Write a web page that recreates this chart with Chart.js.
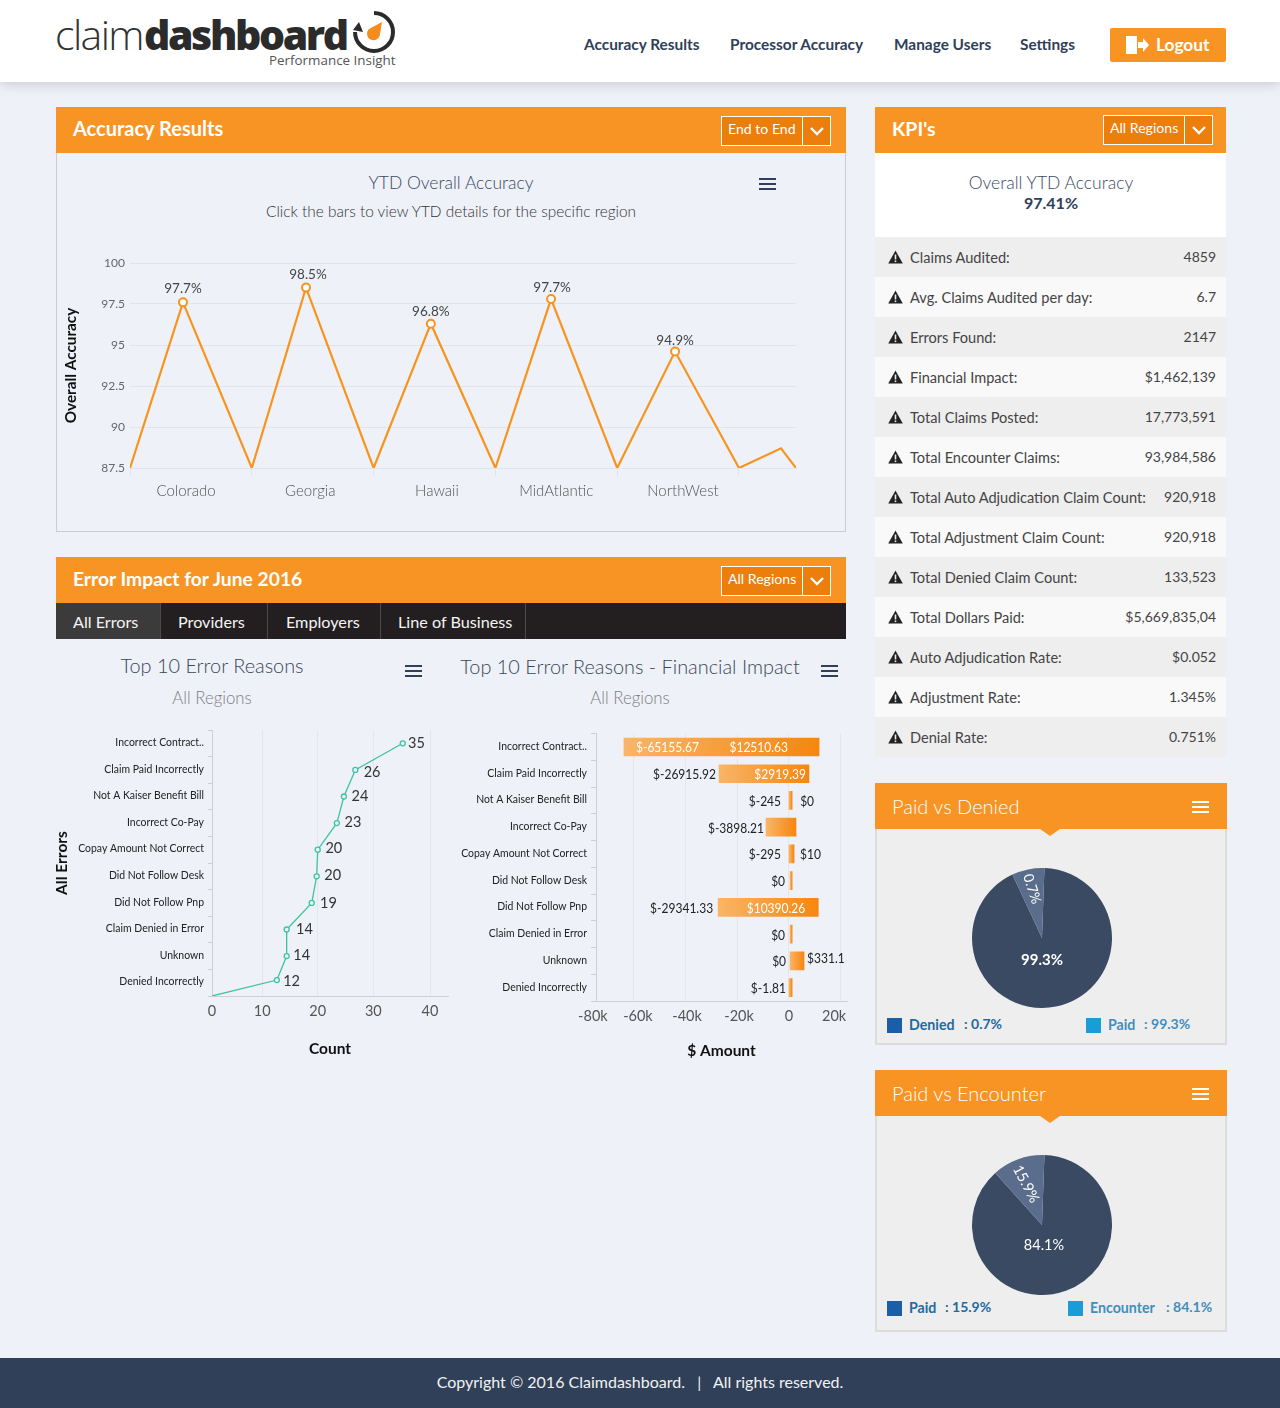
<!DOCTYPE html>
<html><head><meta charset="utf-8">
<script src="https://cdn.jsdelivr.net/npm/chart.js@4"></script>
<style>
html,body{margin:0;padding:0;width:1280px;height:1408px;overflow:hidden;background:#eef1f8;font-family:Lato,sans-serif}
#page{position:relative;width:1280px;height:1408px;overflow:hidden}
#page div,#page svg,#page canvas{position:absolute}
.t{white-space:nowrap}
canvas{display:block}
</style></head><body><div id="page"></div>
<script>
/* ---------- values ---------- */
const navItems = ['Accuracy Results','Processor Accuracy','Manage Users','Settings'];
const tabItems = ['All Errors','Providers','Employers','Line of Business'];
const kpiNames = ['Claims Audited:','Avg. Claims Audited per day:','Errors Found:','Financial Impact:','Total Claims Posted:','Total Encounter Claims:','Total Auto Adjudication Claim Count:','Total Adjustment Claim Count:','Total Denied Claim Count:','Total Dollars Paid:','Auto Adjudication Rate:','Adjustment Rate:','Denial Rate:'];
const kpiValues = ['4859','6.7','2147','$1,462,139','17,773,591','93,984,586','920,918','920,918','133,523','$5,669,835,04','$0.052','1.345%','0.751%'];

const regionLabels = ['Colorado','Georgia','Hawaii','MidAtlantic','NorthWest'];
const regionLabelAt = [0.46,1.48,2.52,3.5,4.54];
const accuracyTicks = [100,97.5,95,92.5,90,87.5];
const accuracyX = [0,0.435,1,1.445,2,2.47,3,3.457,4,4.475,5,5.345,5.468];
const accuracyY = [87.5,97.6,87.5,98.5,87.5,96.3,87.5,97.8,87.5,94.6,87.5,88.7,87.5];
const accuracyLabels = ['','97.7%','','98.5%','','96.8%','','97.7%','','94.9%','','',''];

const errorReasons = ['Incorrect Contract..','Claim Paid Incorrectly','Not A Kaiser Benefit Bill','Incorrect Co-Pay','Copay Amount Not Correct','Did Not Follow Desk','Did Not Follow Pnp','Claim Denied in Error','Unknown','Denied Incorrectly'];
const errorCounts = [35,26.3,24.2,22.9,19.4,19.2,18.3,13.7,13.7,11.9,0];
const errorRows = [0.5,1.5,2.5,3.5,4.5,5.5,6.5,7.5,8.5,9.4,10];
const errorLabels = ['35','26','24','23','20','20','19','14','14','12',''];
const countTickLabels = ['0','10','20','30','40'];
const countTickAt = [0,9.2,19.4,29.6,40];

const amountLow  = [-63700,-26950,100,-8800,100,500,-27300,500,500,100];
const amountHigh = [11700,7800,1300,2800,2050,1300,11400,1300,5900,1300];
const lossLabels = ['$-65155.67','$-26915.92','$-245','$-3898.21','$-295','$0','$-29341.33','$0','$0','$-1.81'];
const gainLabels = ['$12510.63','$2919.39','$0','','$10','','$10390.26','','$331.1',''];
const amountGridAt = [-60000,-40000,-20000,0,20000];
const amountTickLabels = ['-80k','-60k','-40k','-20k','0','20k'];
const amountTickAt = [-75700,-58300,-39300,-19200,100,17500];

const deniedNames = ['Paid','Denied'];
const deniedSlices = [92.5,7.5];
const deniedLabels = ['99.3%','0.7%'];
const encounterNames = ['Encounter','Paid'];
const encounterSlices = [87.8,12.2];
const encounterLabels = ['84.1%','15.9%'];

/* ---------- page furniture ---------- */
const page = document.getElementById('page');
const ORANGE='#f89424', NAVY='#2f4058';
function box(x,y,w,h,css){const d=document.createElement('div');d.style.cssText=`left:${x}px;top:${y}px;width:${w}px;height:${h}px;${css||''}`;page.appendChild(d);return d;}
function text(s,x,cy,size,color,opt){opt=opt||{};const d=document.createElement('div');d.className='t';d.textContent=s;
  const h=Math.round(size*1.6);let pos=`left:${x}px;`;
  if(opt.align==='center')pos=`left:${x-300}px;width:600px;text-align:center;`;
  if(opt.align==='right')pos=`left:${x-500}px;width:500px;text-align:right;`;
  d.style.cssText=`${pos}top:${cy-h/2-0.7}px;height:${h}px;line-height:${h}px;font-size:${size}px;color:${color};font-family:${opt.font||'Lato'},sans-serif;font-weight:${opt.weight||400};${opt.css||''}`;
  page.appendChild(d);return d;}
function burger(x,y,color){for(const dy of [0,5,10])box(x,y+dy,17,2,`background:${color}`);}
function svg(x,y,w,h,inner){const wrap=document.createElement('div');wrap.style.cssText=`left:${x}px;top:${y}px;width:${w}px;height:${h}px`;wrap.innerHTML=`<svg width="${w}" height="${h}" viewBox="0 0 ${w} ${h}" style="left:0;top:0">${inner}</svg>`;page.appendChild(wrap);}
function dropdown(x,y,w,split,label){
  box(x,y,w-2,28,'background:#ec7e0c;border:1px solid #fff');
  box(x+split,y,1,30,'background:#fff');
  text(label,x+7,y+13.3,14.1,'#fff',{weight:400});
  svg(x+split+7,y+9,16,12,'<path d="M2 3 L8 9 L14 3" fill="none" stroke="#fff" stroke-width="2.4"/>');
}
/* header */
box(0,0,1280,82,'background:#fff;box-shadow:0 2px 12px rgba(60,60,70,.22)');
text('claim',55,35,41,'#333',{weight:300,font:'Open Sans',css:'letter-spacing:-1.6px'});
text('dashboard',144,35,41,'#2b2b2b',{weight:800,font:'Open Sans',css:'letter-spacing:-2.4px'});
text('Performance Insight',269,61,13.4,'#555',{font:'Open Sans'});
svg(350,8,48,48,'<path d="M24 5 A19 19 0 1 1 5 24" fill="none" stroke="#2b2b2b" stroke-width="4"/><path d="M3 22 L9 14 L13 24 Z" fill="#2b2b2b"/><path d="M32 14 L30 26 A6.5 6.5 0 1 1 19 21 Z" fill="#f68b1e"/>');
[[584],[730],[894],[1020]].forEach((p,i)=>text(navItems[i],p[0],45,15.4,NAVY,{weight:700}));
box(1110,28,116,34,`background:${ORANGE};border-radius:2px`);
svg(1124,35,26,20,'<path d="M2 1 H13 V19 H2 Z" fill="#fff"/><path d="M14 7 H19 V3 L25 10 L19 17 V13 H14 Z" fill="#fff"/>');
text('Logout',1156,46,17.3,'#fff',{weight:700});
/* accuracy panel */
box(56,153,788,378,'border:1px solid #c9ccd2;border-top:0');
box(56,107,790,46,`background:${ORANGE}`);
text('Accuracy Results',73,129,20,'#fff',{weight:700});
dropdown(721,116,110,81,'End to End');
text('YTD Overall Accuracy',451,183.6,17.5,'#3a4a62',{align:'center',weight:300});
text('Click the bars to view YTD details for the specific region',451,212,15.4,'#333',{align:'center',weight:300});
burger(759,178,NAVY);
/* error panel */
box(56,557,790,46,`background:${ORANGE}`);
text('Error Impact for June 2016',73,579,19.3,'#fff',{weight:700});
dropdown(721,566,110,81,'All Regions');
box(56,603,790,36,'background:#231f20');
box(56,603,104,36,'background:#3b3b3b');
[160,267,380,525].forEach(x=>box(x,603,1,36,'background:#4b4b4b'));
[73,178,286,398].forEach((x,i)=>text(tabItems[i],x,622.6,16.2,'#f4f4f4'));
text('Top 10 Error Reasons',212,666,19.9,'#3a4656',{align:'center',weight:300});
text('All Regions',212,698,16.8,'#808080',{align:'center',weight:300});
burger(405,665,NAVY);
text('Top 10 Error Reasons - Financial Impact',630,667,19.9,'#3a4656',{align:'center',weight:300});
text('All Regions',630,698,16.8,'#808080',{align:'center',weight:300});
burger(821,665,NAVY);
/* KPIs */
box(875,107,351,46,`background:${ORANGE}`);
text("KPI's",892,129.5,19.5,'#fff',{weight:700});
dropdown(1103,115,110,81,'All Regions');
box(875,153,351,84,'background:#fff');
text('Overall YTD Accuracy',1051,183.6,17.5,'#3a4a62',{align:'center',weight:300});
text('97.41%',1051,204,16,NAVY,{align:'center',weight:700});
kpiNames.forEach((n,i)=>{const y=237+i*40;
  box(875,y,351,40,`background:${i%2?'#f9f9f9':'#eeeeee'}`);
  svg(888,y+13,15,14,'<path d="M7.5 0.5 L14.8 13.5 H0.2 Z" fill="#222"/><rect x="6.7" y="4.5" width="1.6" height="5" fill="#eee"/><rect x="6.7" y="10.5" width="1.6" height="1.6" fill="#eee"/>');
  text(n,910,y+20.7,14.6,'#444');
  text(kpiValues[i],1216,y+20.7,14,'#444',{align:'right'});
});
/* pie panels */
function piePanel(top,title){
  box(875,top+46,348,214,'background:#eeeeee;border:2px solid #dcdcdc;border-top:0');
  box(875,top,352,46,`background:${ORANGE}`);
  text(title,892,top+24,20,'#fff',{weight:300});
  for(const dy of [0,5,10])box(1192,top+18+dy,17,2,'background:#fff');
  svg(1040,top+46,20,7,`<path d="M0 0 H20 L10 7 Z" fill="${ORANGE}"/>`);
}
function legendItem(x,y,color,tcolor,name,nameW,val){
  box(x,y-7.5,15,15,`background:${color}`);
  text(name,x+22,y,14.2,tcolor,{weight:700});
  text(': '+val,x+nameW,y,14,tcolor,{weight:700});
}
piePanel(783,'Paid vs Denied');
legendItem(887,1025,'#1a5ea8','#1f6a9f','Denied',77,'0.7%');
legendItem(1086,1025,'#1a9cd8','#3f8fbd','Paid',58,'99.3%');
piePanel(1070,'Paid vs Encounter');
legendItem(887,1308,'#1a5ea8','#1f6a9f','Paid',58,'15.9%');
legendItem(1068,1308,'#1a9cd8','#3f8fbd','Encounter',98,'84.1%');
/* footer */
box(0,1358,1280,50,`background:${NAVY}`);
text('Copyright © 2016 Claimdashboard.   |   All rights reserved.',640,1383,16,'#f2f2f2',{align:'center',css:'white-space:pre;'});

function canvasAt(x,y,w,h){const c=document.createElement('canvas');c.width=w;c.height=h;c.style.cssText=`left:${x}px;top:${y}px;width:${w}px;height:${h}px`;page.appendChild(c);return c;}
/* ---------- charts ---------- */
Chart.defaults.font.family='Lato';
Chart.defaults.animation=false;
Chart.defaults.responsive=false;
Chart.defaults.plugins.legend.display=false;
Chart.defaults.plugins.tooltip.enabled=false;
const GRID='#e0e4ee', AXIS='#cfcfcf', VGRID='#e6e6e6';
const noPad=s=>{s.paddingLeft=s.paddingRight=s.paddingTop=s.paddingBottom=0};
/* the reference's category labels are a condensed cut: squeeze them about their right edge */
function squeezeLabels(s,k){if(s._squeezed)return;s._squeezed=true;const draw=s.drawLabels;
  s.drawLabels=function(area){const c=this.ctx,ax=this.right-this.options.grid.tickLength-this.options.ticks.padding;
    c.save();c.translate(ax,0);c.scale(k,1);c.translate(-ax,0);draw.call(this,area);c.restore();};}
function squeezedText(c,s,x,y,k){c.save();c.translate(x,y);c.scale(k,1);c.fillText(s,0,0);c.restore();}

/* accuracy line */
const peakShift=[[0,-14],[2,-13],[0,-12],[1,-11],[0,-11]];
new Chart(canvasAt(57,250,788,280),{type:'line',
  data:{datasets:[{data:accuracyX.map((x,i)=>({x,y:accuracyY[i]})),borderColor:'#f7941d',borderWidth:2.2,tension:0,
    pointRadius:c=>accuracyLabels[c.dataIndex]?4:0,pointBorderWidth:2,pointBorderColor:'#f7941d',pointBackgroundColor:'#fff'}]},
  options:{layout:{autoPadding:false,padding:{top:13,right:49}},
    scales:{
      x:{type:'linear',min:0,max:5.468,position:'bottom',grid:{drawOnChartArea:false,tickLength:8,color:GRID},border:{color:GRID},ticks:{display:false},
        afterBuildTicks:s=>{s.ticks=[0,1,2,3,4,5].map(value=>({value}))},afterFit:s=>{s.height=8;noPad(s)}},
      xr:{type:'linear',min:0,max:5.468,position:'bottom',grid:{display:false,drawTicks:false},border:{display:false},
        ticks:{padding:6,color:'#555',font:{size:15,weight:300},maxRotation:0,autoSkip:false,callback:(v,i)=>regionLabels[i]},
        afterBuildTicks:s=>{s.ticks=regionLabelAt.map(value=>({value}))},afterFit:s=>{s.height=54;noPad(s)}},
      y:{min:87.5,max:100,afterBuildTicks:s=>{s.ticks=accuracyTicks.map(value=>({value}))},
        grid:{color:GRID,drawTicks:false},border:{display:false},
        ticks:{padding:5,color:'#666',font:{size:12},callback:v=>v},
        title:{display:true,text:'Overall Accuracy',color:'#111',font:{size:15.3,weight:700},padding:{top:5,bottom:0}},
        afterFit:s=>{s.width=73;noPad(s)}}}},
  plugins:[{id:'peakLabels',afterDatasetsDraw(ch){const c=ch.ctx;c.save();c.font='13.5px Lato';c.fillStyle='#444';c.textAlign='center';c.textBaseline='middle';let k=0;
    ch.getDatasetMeta(0).data.forEach((p,i)=>{if(accuracyLabels[i]){const d=peakShift[k++];c.fillText(accuracyLabels[i],p.x+d[0],p.y+d[1])}});c.restore();}}]});

/* error count line */
const countLabelShift=[[5.3,0],[8.3,2.3],[7.7,0],[7.7,-1],[7.7,-1],[7.7,-1],[8.3,0],[9.3,0],[6.7,-1],[6.3,1]];
new Chart(canvasAt(50,720,400,345),{type:'line',
  data:{datasets:[{data:errorCounts.map((x,i)=>({x,y:errorRows[i]})),borderColor:'#3cc4a2',borderWidth:1.3,tension:0,
    pointRadius:c=>errorLabels[c.dataIndex]?2.5:0,pointBorderWidth:1.3,pointBorderColor:'#3cc4a2',pointBackgroundColor:'#eef1f8'}]},
  options:{layout:{autoPadding:false,padding:{top:10,right:2}},
    scales:{
      x:{type:'linear',min:0,max:43.3,position:'bottom',grid:{color:VGRID,drawTicks:false},border:{color:AXIS},
        afterBuildTicks:s=>{s.ticks=countTickAt.map(value=>({value}))},
        ticks:{padding:7,color:'#555',font:{size:14.5},maxRotation:0,autoSkip:false,callback:(v,i)=>countTickLabels[i]},
        title:{display:true,text:'Count',color:'#111',font:{size:15.5,weight:700},padding:{top:0,bottom:6.5}},
        afterFit:s=>{s.height=69;noPad(s)}},
      y:{type:'linear',reverse:true,min:0,max:10,position:'left',
        afterBuildTicks:s=>{s.ticks=[0,1,2,3,4,5,6,7,8,9,10].map(value=>({value}))},
        grid:{drawOnChartArea:false,tickLength:4,color:AXIS},border:{color:AXIS},
        ticks:{padding:4,labelOffset:-14.5,color:'#222',font:{size:12},autoSkip:false,callback:(v,i)=>i===0?'':errorReasons[i-1]},
        title:{display:true,text:'All Errors',color:'#111',font:{size:15.5,weight:700},padding:{top:3,bottom:0}},
        afterFit:s=>{s.width=162;noPad(s);squeezeLabels(s,.87)}}}},
  plugins:[{id:'countLabels',afterDatasetsDraw(ch){const c=ch.ctx;c.save();c.font='14.5px Lato';c.fillStyle='#333';c.textAlign='left';c.textBaseline='middle';
    ch.getDatasetMeta(0).data.forEach((p,i)=>{if(errorLabels[i])c.fillText(errorLabels[i],p.x+countLabelShift[i][0],p.y+countLabelShift[i][1])});c.restore();}}]});

/* financial impact bars */
const lossPlace=[[+12,'in'],[-3,'out'],[-8,'out'],[-2,'out'],[-8,'out'],[-5,'out'],[-5,'out'],[-5,'out'],[-4,'out'],[-3,'out']];
const gainPlace=[[-31,'in'],[-3,'in'],[8,'out'],null,[6,'out'],null,[-13,'in'],null,[3,'out'],null];
new Chart(canvasAt(440,720,410,345),{type:'bar',
  data:{labels:errorReasons,datasets:[{data:amountLow.map((v,i)=>[v,amountHigh[i]]),barThickness:18,borderWidth:0,
    backgroundColor:c=>{const x=c.chart.scales.x;if(!x||!Array.isArray(c.raw))return '#f89424';
      const a=x.getPixelForValue(c.raw[0]),b=x.getPixelForValue(c.raw[1]);
      if(!isFinite(a)||!isFinite(b))return '#f89424';
      const g=c.chart.ctx.createLinearGradient(a,0,b,0);
      g.addColorStop(0,'#f9b566');g.addColorStop(1,'#f7860e');return g;}}]},
  options:{indexAxis:'y',layout:{autoPadding:false,padding:{top:13.6,right:3}},
    scales:{
      x:{type:'linear',min:-74500,max:22500,position:'bottom',grid:{color:VGRID,drawTicks:false},border:{color:AXIS},ticks:{display:false},
        afterBuildTicks:s=>{s.ticks=amountGridAt.map(value=>({value}))},
        afterFit:s=>{s.height=0;noPad(s)}},
      xl:{type:'linear',min:-74500,max:22500,position:'bottom',grid:{display:false,drawTicks:false},border:{display:false},
        afterBuildTicks:s=>{s.ticks=amountTickAt.map(value=>({value}))},
        ticks:{padding:7,color:'#555',font:{size:14.5},maxRotation:0,autoSkip:false,callback:(v,i)=>amountTickLabels[i]},
        title:{display:true,text:'$ Amount',color:'#111',font:{size:15.5,weight:700},padding:{top:0,bottom:4.7}},
        afterFit:s=>{s.height=64;noPad(s)}},
      y:{grid:{drawOnChartArea:false,tickLength:5,color:AXIS},border:{color:AXIS},
        ticks:{padding:4,labelOffset:-1,color:'#222',font:{size:12},autoSkip:false},
        afterFit:s=>{s.width=156;noPad(s);squeezeLabels(s,.87)}}}},
  plugins:[{id:'amountLabels',afterDatasetsDraw(ch){const c=ch.ctx;c.save();c.font='13.5px Lato';c.textBaseline='middle';const K=.89;
    ch.getDatasetMeta(0).data.forEach((b,i)=>{const left=Math.min(b.x,b.base),right=Math.max(b.x,b.base),y=b.y+1;
      const lp=lossPlace[i];
      if(lp[1]==='in'){c.textAlign='left';c.fillStyle='#fff';squeezedText(c,lossLabels[i],left+lp[0],y,K)}
      else{c.textAlign='right';c.fillStyle='#222';squeezedText(c,lossLabels[i],left+lp[0],y,K)}
      const gp=gainPlace[i];
      if(gp){if(gp[1]==='in'){c.textAlign='right';c.fillStyle='#fff';squeezedText(c,gainLabels[i],right+gp[0],y,K)}
        else{c.textAlign='left';c.fillStyle='#222';squeezedText(c,gainLabels[i],right+gp[0],y-(i===8?3:0),K)}}
    });c.restore();}}]});

/* pies */
function pie(cx,cy,names,values,labels,place){
  new Chart(canvasAt(cx-80,cy-80,160,160),{type:'pie',
    data:{labels:names,datasets:[{data:values,backgroundColor:['#3a4a62','#5a6d8d'],borderWidth:0,hoverOffset:0}]},
    options:{rotation:2,radius:70,layout:{padding:0}},
    plugins:[{id:'pieLabels',afterDatasetsDraw(ch){const c=ch.ctx;
      place.forEach((p,i)=>{c.save();c.translate(80+p.dx,80+p.dy);c.rotate(p.rot*Math.PI/180);c.font=p.font;c.fillStyle='#fff';c.textAlign='center';c.textBaseline='middle';c.fillText(labels[i],0,0);c.restore();});}}]});
}
pie(1042,938,deniedNames,deniedSlices,deniedLabels,[{dx:0,dy:22,rot:0,font:'bold 15px Lato'},{dx:-10,dy:-49,rot:72,font:'14px Lato'}]);
pie(1042,1225,encounterNames,encounterSlices,encounterLabels,[{dx:2,dy:20,rot:0,font:'14.5px Lato'},{dx:-16,dy:-41,rot:62,font:'14.5px Lato'}]);
</script></body></html>
